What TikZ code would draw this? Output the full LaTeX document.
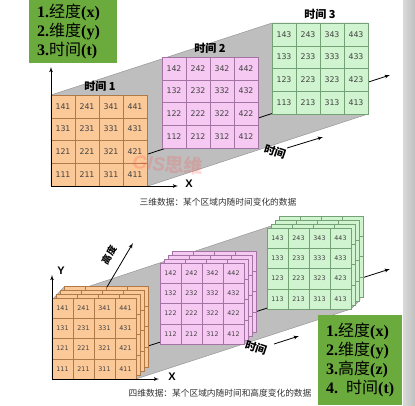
\documentclass[tikz,border=0pt]{standalone}
\usepackage{fontspec}
\setmainfont{Liberation Serif}
\setsansfont{Liberation Sans}
\newfontfamily\cjk{Noto Sans CJK SC}
\newfontfamily\cellfont{DejaVu Sans}
\usetikzlibrary{arrows}

\definecolor{keygreen}{HTML}{6BAA3C}
\definecolor{ofill}{HTML}{FBC898}
\definecolor{oline}{HTML}{B07A48}
\definecolor{pfill}{HTML}{F6C9F3}
\definecolor{pline}{HTML}{A374A3}
\definecolor{gfill}{HTML}{CFF4CF}
\definecolor{gline}{HTML}{74A274}
\definecolor{band}{HTML}{BEBEBE}
\definecolor{bandline}{HTML}{8E8E8E}

\tikzstyle{cell} = [rectangle, draw, inner sep=0pt, line width=0.5pt, text=black!75]
\tikzstyle{big} = [minimum width=24pt, minimum height=22.75pt, font=\cellfont\fontsize{7.8}{8}\selectfont]
\tikzstyle{small} = [minimum width=21pt, minimum height=20.25pt, font=\cellfont\fontsize{6.3}{7}\selectfont]
\tikzstyle{ocell} = [draw=oline, fill=ofill]
\tikzstyle{pcell} = [draw=pline, fill=pfill]
\tikzstyle{gcell} = [draw=gline, fill=gfill]
\tikzstyle{arrow} = [thick,-latex']
\tikzstyle{title} = [font=\cjk\bfseries\fontsize{11}{12}\selectfont]
\tikzstyle{caption} = [font=\cjk\fontsize{8.7}{9}\selectfont, text=black!80]
\tikzstyle{axislabel} = [font=\sffamily\bfseries\fontsize{11}{12}\selectfont]
\tikzstyle{key} = [rectangle, fill=keygreen, anchor=north west, align=left, inner xsep=8pt, font=\fontsize{16}{19}\selectfont]

% 4x4 grid: name, x, y (top left), cell w, cell h, text, style
\newcommand{\tgrid}[7]{%
  \foreach \ix in {1,...,4}{%
    \foreach \iy in {1,...,4}{%
      \node (#1\ix\iy) [cell,#7] at ({#2+(\ix-0.5)*#4},{#3+(4.5-\iy)*#5}) {#6};
    }}}
\newcommand{\kl}[3]{\textbf{#1}{\cjk #2}\textbf{#3}}

\begin{document}
\begin{tikzpicture}[x=1pt,y=-1pt]
        \useasboundingbox (0,0) rectangle (415,405);
        \fill[white] (0,0) rectangle (415,405);
        \shade[left color=gray!30, right color=gray!50] (403,0) rectangle (415,405);

        % three dimensions
        \fill[band, draw=bandline] (51,95) -- (272,23) -- (368,23) -- (368,114) -- (148,186) -- (51,186) -- cycle;
        \coordinate (t3a) at (148,154);
        \coordinate (t3b) at (390,75);
        \draw[arrow] (t3a) -- (t3b);
        \tgrid{o3}{51}{95}{24}{22.75}{\ix\iy1}{big,ocell}
        \tgrid{p3}{162}{57}{24}{22.75}{\ix\iy2}{big,pcell}
        \tgrid{g3}{272}{23}{24}{22.75}{\ix\iy3}{big,gcell}
        \node (T1) [title] at (100,86) {时间 1};
        \node (T2) [title] at (210,48) {时间 2};
        \node (T3) [title] at (320,14) {时间 3};
        \node (tt3) [title, rotate=-18] at (275,152) {时间};
        \coordinate (ta3) at (287,148);
        \coordinate (tb3) at (323,137);
        \draw[arrow] (ta3) -- (tb3);
        \node (mark) [text=red!70, opacity=0.22, font=\sffamily\bfseries\itshape\fontsize{19}{19}\selectfont, rotate=-4] at (168,164) {GIS{\cjk\bfseries 思维}};
        \coordinate (O3) at (51,186);
        \coordinate (Y3) at (51,67);
        \coordinate (X3) at (178,186);
        \draw[arrow] (O3) -- (Y3);
        \draw[arrow] (O3) -- (X3);
        \node (Xlab3) [axislabel] at (189,184) {X};
        \node (cap3) [caption] at (218,202) {三维数据：某个区域内随时间变化的数据};
        \node (key3) [key, minimum width=88pt, minimum height=63pt, text width=72pt] at (29,0)
        {\kl{1.}{经度}{(x)}\\\kl{2.}{维度}{(y)}\\\kl{3.}{时间}{(t)}};

        % four dimensions
        \fill[band, draw=bandline] (64,287) -- (87,287) -- (280,223) -- (360,223) -- (360,300) -- (351,309) -- (136,379) -- (52,379) -- (52,300) -- cycle;
        \coordinate (t4a) at (148,346);
        \coordinate (t4b) at (390,269);
        \draw[arrow] (t4a) -- (t4b);
        \foreach \k in {3,2,1}{
          \tgrid{o4l\k}{52+4.2*\k}{298-4*\k}{21}{20.25}{}{cell,small,ocell}
          \tgrid{p4l\k}{160+4.2*\k}{263-4*\k}{21}{20.25}{}{cell,small,pcell}
          \tgrid{g4l\k}{267+4.2*\k}{228-4*\k}{21}{20.25}{}{cell,small,gcell}
        }
        \tgrid{o4}{52}{298}{21}{20.25}{\ix\iy1}{small,ocell}
        \tgrid{p4}{160}{263}{21}{20.25}{\ix\iy2}{small,pcell}
        \tgrid{g4}{267}{228}{21}{20.25}{\ix\iy3}{small,gcell}
        \node (tt4) [title, rotate=-18] at (256,348) {时间};
        \coordinate (ta4) at (274,344);
        \coordinate (tb4) at (299,336);
        \draw[arrow] (ta4) -- (tb4);
        \coordinate (za) at (107,287);
        \coordinate (zb) at (133,243);
        \draw[arrow] (za) -- (zb);
        \node (zlab) [font=\cjk\bfseries\fontsize{9.5}{10}\selectfont, rotate=59, inner sep=1pt] at (109,255) {高度};
        \coordinate (O4) at (52,379);
        \coordinate (Y4) at (52,275);
        \coordinate (X4) at (159,379);
        \draw[arrow] (O4) -- (Y4);
        \draw[arrow] (O4) -- (X4);
        \node (Ylab4) [axislabel] at (61,271) {Y};
        \node (Xlab4) [axislabel] at (172,377) {X};
        \node (cap4) [caption] at (220,393) {四维数据：某个区域内随时间和高度变化的数据};
        \node (key4) [key, minimum width=84pt, minimum height=90pt, text width=68pt] at (318,315)
        {\kl{1.}{经度}{(x)}\\\kl{2.}{维度}{(y)}\\\kl{3.}{高度}{(z)}\\\kl{4. }{时间}{(t)}};
\end{tikzpicture}
\end{document}
